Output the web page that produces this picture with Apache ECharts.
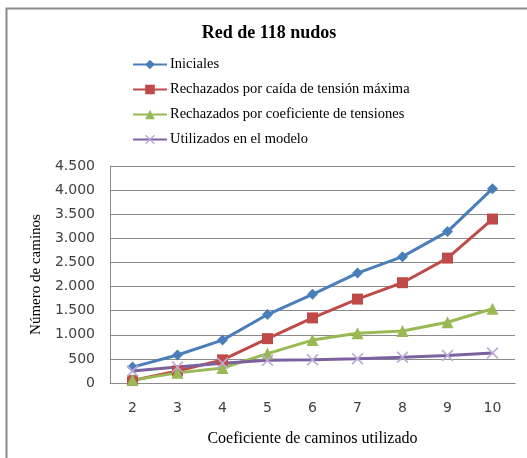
<!DOCTYPE html>
<html>
<head>
<meta charset="utf-8">
<script src="https://cdn.jsdelivr.net/npm/echarts@6/dist/echarts.min.js"></script>
<style>
    html, body { margin: 0; padding: 0; background: #fff; }
    #chart { width: 527px; height: 458px; }
</style>
</head>
<body>
<div id="chart"></div>
<script>
// datos
const categorias = ["2", "3", "4", "5", "6", "7", "8", "9", "10"];
const iniciales = [330, 580, 890, 1420, 1840, 2280, 2620, 3140, 4030];
const rechazadosCaida = [50, 250, 480, 920, 1350, 1740, 2080, 2590, 3400];
const rechazadosCoef = [60, 210, 310, 610, 890, 1030, 1080, 1260, 1540];
const utilizados = [250, 330, 410, 470, 480, 505, 535, 570, 620];

const serif = "'Liberation Serif', 'DejaVu Serif', serif";
const crossPath = "path://M0,1L1,0L5,4L9,0L10,1L6,5L10,9L9,10L5,6L1,10L0,9L4,5Z";

function fmt(v) {
    return String(v).replace(/\B(?=(\d{3})+(?!\d))/g, ".");
}

const chart = echarts.init(document.getElementById("chart"));
chart.setOption({
    animation: false,
    graphic: [
        {
            type: "rect",
            shape: { x: 6.5, y: 8.5, width: 700, height: 700 },
            style: { fill: "none", stroke: "#8a8a8a", lineWidth: 2 },
            silent: true
        }
    ],
    title: {
        text: "Red de 118 nudos",
        left: 264,
        textAlign: "center",
        top: 19,
        textStyle: { fontFamily: serif, fontSize: 18, fontWeight: "bold", color: "#000" }
    },
    legend: {
        orient: "vertical",
        left: 127,
        top: 52,
        itemWidth: 34,
        itemHeight: 12,
        itemGap: 10,
        textStyle: { fontFamily: serif, fontSize: 14.5, color: "#000", padding: [0, 0, 0, -2] },
        data: [
            "Iniciales",
            "Rechazados por caída de tensión máxima",
            "Rechazados por coeficiente de tensiones",
            "Utilizados en el modelo"
        ]
    },
    grid: { left: 110, right: 12, top: 166, bottom: 75 },
    xAxis: {
        type: "category",
        data: categorias,
        name: "Coeficiente de caminos utilizado",
        nameLocation: "middle",
        nameGap: 48,
        nameTextStyle: { fontFamily: serif, fontSize: 16, color: "#000" },
        axisLine: { lineStyle: { color: "#8a8a8a" } },
        axisTick: { show: false },
        axisLabel: { fontFamily: "'DejaVu Sans', sans-serif", fontSize: 14, color: "#404040", margin: 18 }
    },
    yAxis: {
        type: "value",
        min: 0,
        max: 4500,
        interval: 500,
        name: "Número de caminos",
        nameLocation: "middle",
        nameGap: 64,
        nameTextStyle: { fontFamily: serif, fontSize: 15, color: "#000" },
        axisLine: { show: true, lineStyle: { color: "#8a8a8a" } },
        axisTick: { show: false },
        splitLine: { lineStyle: { color: "#8a8a8a" } },
        axisLabel: {
            fontFamily: "'DejaVu Sans', sans-serif",
            fontSize: 14,
            color: "#404040",
            margin: 15,
            formatter: fmt
        }
    },
    series: [
        {
            name: "Iniciales",
            type: "line",
            data: iniciales,
            symbol: "diamond",
            symbolSize: 11,
            lineStyle: { width: 3, color: "#4a7ebb" },
            itemStyle: { color: "#4a7ebb" }
        },
        {
            name: "Rechazados por caída de tensión máxima",
            type: "line",
            data: rechazadosCaida,
            symbol: "rect",
            symbolSize: 11,
            lineStyle: { width: 3, color: "#be4b48" },
            itemStyle: { color: "#be4b48" }
        },
        {
            name: "Rechazados por coeficiente de tensiones",
            type: "line",
            data: rechazadosCoef,
            symbol: "triangle",
            symbolSize: 12,
            lineStyle: { width: 3, color: "#98b954" },
            itemStyle: { color: "#98b954" }
        },
        {
            name: "Utilizados en el modelo",
            type: "line",
            data: utilizados,
            symbol: crossPath,
            symbolSize: 12,
            lineStyle: { width: 3, color: "#7d60a0" },
            itemStyle: { color: "#b9a9d3" }
        }
    ]
});
</script>
</body>
</html>
